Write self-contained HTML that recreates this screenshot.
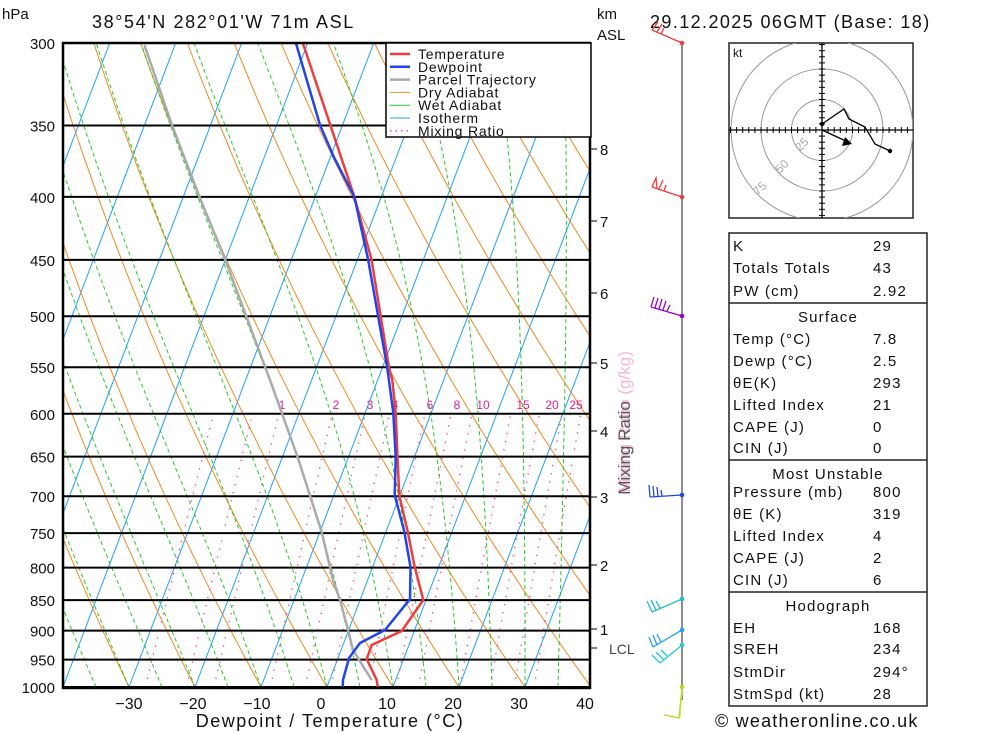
<!DOCTYPE html>
<html><head><meta charset="utf-8"><style>
body{margin:0;background:#fff}
svg{display:block}
text{font-family:"Liberation Sans",sans-serif;fill:#111}
</style></head><body>
<svg id="s" width="1000" height="733" viewBox="0 0 1000 733" xmlns="http://www.w3.org/2000/svg">
<defs><clipPath id="cp"><rect x="63" y="43" width="527" height="645"/></clipPath></defs>
<g id="bg" clip-path="url(#cp)"></g>
<g id="fg"></g>
</svg>
<script>
var NS="http://www.w3.org/2000/svg";
var bg=document.getElementById('bg'),fg=document.getElementById('fg');
function Y(p){return 43+644*Math.log(p/300)/Math.log(10/3);}
function X(T,y){return 327+6.6*T+0.38*(687-y);}
function el(par,tag,at,txt){var e=document.createElementNS(NS,tag);for(var k in at)e.setAttribute(k,at[k]);if(txt!==undefined)e.textContent=txt;par.appendChild(e);return e;}
function pl(par,pts,st){return el(par,'polyline',Object.assign({points:pts.map(function(q){return q[0].toFixed(1)+','+q[1].toFixed(1)}).join(' '),fill:'none'},st));}
for(var T=-110;T<=50;T+=10){var y1=687,y2=43;el(bg,'line',{x1:X(T,y1),y1:y1,x2:X(T,y2),y2:y2,stroke:'#1ea0ff','stroke-width':1});}
for(var th=183.15;th<=503.15;th+=10){var pts=[];for(var p=1000;p>=300;p-=10){var t=th*Math.pow(p/1000,0.2857)-273.15;var y=Y(p);pts.push([X(t,y),y]);}pl(bg,pts,{stroke:'#f08a24','stroke-width':1});}
function es(t){return 6.112*Math.exp(17.67*t/(t+243.5));}
for(var tw=-45;tw<=40;tw+=5){var t=tw,pts=[];for(var p=1000;p>=300;p-=5){var y=Y(p);pts.push([X(t,y),y]);var TK=t+273.15,e=es(t),rs=0.622*e/(p-e);var g=(287*TK+2.5e6*rs)/(p*(1004+2.5e6*2.5e6*rs*0.622/(287*TK*TK)));t-=g*5;}pl(bg,pts,{stroke:'#22cc22','stroke-width':1,'stroke-dasharray':'4,3'});}
var ws=[0.4,0.7,1,2,3,4,6,8,10,15,20,25,30];
ws.forEach(function(w){var pts=[];for(var p=1000;p>=600;p-=10){var e=p*w/(622+w),l=Math.log(e/6.112),td=243.5*l/(17.67-l),y=Y(p);pts.push([X(td,y),y]);}pl(bg,pts,{stroke:'#ff3399','stroke-width':1.3,'stroke-dasharray':'1.3,7'});});
[[1,282],[2,336],[3,370],[4,395],[6,430],[8,457],[10,483],[15,523],[20,552],[25,576]].forEach(function(a){el(fg,'text',{x:a[1],y:409,'font-size':12,'text-anchor':'middle',style:'fill:#e0208c'},a[0]);});
[300,350,400,450,500,550,600,650,700,750,800,850,900,950,1000].forEach(function(p){var y=Y(p);el(fg,'line',{x1:63,y1:y,x2:590,y2:y,stroke:'#000','stroke-width':2});el(fg,'text',{x:55,y:y+6,'font-size':15,'text-anchor':'end'},p);});
pl(fg,[[371.7,680],[353,650],[348,630],[340,600],[333,580],[321.7,532],[297.6,457],[270,380],[225.3,260],[199.5,197],[171.9,125],[144.4,45]],{stroke:'#aaa','stroke-width':2.5});
pl(fg,[[377.7,687],[376.7,680],[366.7,659],[371.7,645],[401.7,631],[423.3,600],[414.7,567],[407.8,532],[399.2,495],[397.5,457],[395.7,413],[392.3,380],[388.9,367],[371.6,260],[354.4,197],[330.3,125],[302.8,43]],{stroke:'#f03c3c','stroke-width':2.5});
pl(fg,[[342.7,687],[343,680],[349,658],[360,643],[385,630],[410,599],[410.5,567],[404.4,532],[394.7,495],[395.7,457],[393.3,413],[388.9,380],[387.1,367],[368.2,260],[354.4,197],[333.8,157],[320,125],[295.9,43]],{stroke:'#2244ee','stroke-width':2.5});
el(fg,'rect',{x:63,y:43,width:527,height:645,fill:'none',stroke:'#000','stroke-width':2.5});
[[-30,129],[-20,193],[-10,257],[0,321],[10,387],[20,453],[30,519],[40,585]].forEach(function(a){el(fg,'text',{x:a[1],y:709,'font-size':16,'text-anchor':'middle'},a[0]<0?'\u2212'+(-a[0]):a[0]);});
el(fg,'text',{x:330,y:727,'font-size':18,'text-anchor':'middle','letter-spacing':1.5},'Dewpoint / Temperature (°C)');
el(fg,'text',{x:2,y:19,'font-size':15},'hPa');
el(fg,'text',{x:92,y:28,'font-size':18,'letter-spacing':1.6},'38°54\'N  282°01\'W  71m  ASL');
el(fg,'text',{x:597,y:19,'font-size':15},'km');
el(fg,'text',{x:597,y:40,'font-size':15},'ASL');
el(fg,'text',{x:650,y:28,'font-size':18,'letter-spacing':1.4},'29.12.2025 06GMT (Base: 18)');
[[8,149],[7,221],[6,293],[5,363],[4,431],[3,497],[2,565],[1,629]].forEach(function(a){el(fg,'line',{x1:590,y1:a[1],x2:597,y2:a[1],stroke:'#000','stroke-width':1});el(fg,'text',{x:600,y:a[1]+6,'font-size':15},a[0]);});
el(fg,'line',{x1:590,y1:648,x2:597,y2:648,stroke:'#000','stroke-width':1});
el(fg,'text',{x:609,y:654,'font-size':14,style:'fill:#444'},'LCL');
el(fg,'text',{x:0,y:0,'font-size':17,'text-anchor':'middle',transform:'translate(630,422) rotate(-90)',style:'fill:#f5b8d8'},'Mixing Ratio (g/kg)');
el(fg,'text',{x:0,y:0,'font-size':17,'text-anchor':'middle',transform:'translate(630,448) rotate(-90)',style:'fill:#555'},'Mixing Ratio');
el(fg,'rect',{x:386,y:43,width:205,height:94,fill:'#fff',stroke:'#000','stroke-width':1.5});
[['Temperature','#f03c3c',2.5,''],['Dewpoint','#2244ee',2.5,''],['Parcel Trajectory','#aaa',2.5,''],['Dry Adiabat','#f08a24',1,''],['Wet Adiabat','#22cc22',1,''],['Isotherm','#1ea0ff',1,''],['Mixing Ratio','#ff3399',1.3,'1.5,4']].forEach(function(a,i){var y=54+i*12.8;el(fg,'line',{x1:390,y1:y,x2:410,y2:y,stroke:a[1],'stroke-width':a[2],'stroke-dasharray':a[3]||'none'});el(fg,'text',{x:418,y:y+5,'font-size':14,'letter-spacing':0.8},a[0]);});
el(fg,'line',{x1:682,y1:43,x2:682,y2:700,stroke:'#444','stroke-width':1.2});
function barb(c,pts,extra){pl(fg,pts,{stroke:c,'stroke-width':1.3});(extra||[]).forEach(function(e){pl(fg,e,{stroke:c,'stroke-width':1.3});});el(fg,'circle',{cx:pts[0][0],cy:pts[0][1],r:2.3,fill:c});}
barb('#f03c3c',[[682,43],[652,30]],[[[652,30],[658,22]],[[657,32],[662,24]],[[661,34],[664,28]]]);
barb('#f03c3c',[[682,197],[652,187]],[[[652,187],[656,178],[657,188]],[[659,189],[663,180]],[[664,191],[666,185]]]);
barb('#9900cc',[[682,316],[651,307]],[[[651,307],[654,297]],[[655,308],[658,298]],[[659,309],[662,299]],[[663,310],[666,301]],[[667,311],[670,305]]]);
barb('#2244ee',[[682,495],[650,497]],[[[650,497],[649,485]],[[654,497],[653,486]],[[658,496],[657,487]],[[662,496],[661,490]]]);
barb('#22bbcc',[[682,599],[652,612]],[[[652,612],[647,601]],[[656,610],[651,600]],[[660,608],[656,601]]]);
barb('#1ea0ff',[[682,630],[653,647]],[[[653,647],[649,637]],[[657,645],[653,635]],[[661,642],[657,634]]]);
barb('#22cccc',[[682,645],[660,663]],[[[660,663],[652,655]],[[664,660],[656,652]],[[668,657],[661,650]]]);
pl(fg,[[682,687],[679,718],[664,715]],{stroke:'#aadd22','stroke-width':1.3});
pl(fg,[[682,690],[680,717]],{stroke:'#dddd22','stroke-width':1});
el(fg,'circle',{cx:682,cy:687,r:2.3,fill:'#aadd22'});
var hx=822,hy=130;
el(fg,'rect',{x:729,y:43,width:184,height:175,fill:'#fff',stroke:'#222','stroke-width':1.5});
var hg=el(fg,'g',{});
el(hg,'clipPath',{id:'hc'});
el(document.getElementById('hc'),'rect',{x:729,y:43,width:184,height:175});
var hc=el(fg,'g',{'clip-path':'url(#hc)'});
[30.5,61,91].forEach(function(r){el(hc,'circle',{cx:hx,cy:hy,r:r,fill:'none',stroke:'#999','stroke-width':1});});
el(hc,'line',{x1:729,y1:hy,x2:913,y2:hy,stroke:'#000','stroke-width':1.3});
el(hc,'line',{x1:hx,y1:43,x2:hx,y2:218,stroke:'#000','stroke-width':1.3});
for(var k=-15;k<=15;k++){if(k==0)continue;el(hc,'line',{x1:hx+k*6.1,y1:hy-3,x2:hx+k*6.1,y2:hy+3,stroke:'#000','stroke-width':1});el(hc,'line',{x1:hx-3,y1:hy+k*6.1,x2:hx+3,y2:hy+k*6.1,stroke:'#000','stroke-width':1});}
el(fg,'text',{x:733,y:57,'font-size':12},'kt');
[['25',800,152],['50',780,174],['75',758,196]].forEach(function(a){el(fg,'text',{x:0,y:0,'font-size':12,transform:'translate('+a[1]+','+a[2]+') rotate(-45)',style:'fill:#aaa'},a[0]);});
pl(fg,[[822,124],[844,109],[849,119],[865,127],[875,144],[890,151]],{stroke:'#000','stroke-width':1.3});
el(fg,'circle',{cx:822,cy:124,r:2.2,fill:'#000'});el(fg,'circle',{cx:890,cy:151,r:2.2,fill:'#000'});
el(fg,'line',{x1:822,y1:130,x2:848,y2:142,stroke:'#000','stroke-width':1.3});
el(fg,'polygon',{points:'852,144 842,146 845,137',fill:'#000'});
el(fg,'rect',{x:729,y:233,width:198,height:473,fill:'none',stroke:'#222','stroke-width':1.5});
[303,460,592].forEach(function(y){el(fg,'line',{x1:729,y1:y,x2:927,y2:y,stroke:'#222','stroke-width':1.5});});
var rows=[['K','29',246],['Totals Totals','43',268],['PW (cm)','2.92',291],['#Surface','',317],['Temp (°C)','7.8',339],['Dewp (°C)','2.5',361],['θE(K)','293',383],['Lifted Index','21',405],['CAPE (J)','0',427],['CIN (J)','0',448],['#Most Unstable','',474],['Pressure (mb)','800',492],['θE (K)','319',514],['Lifted Index','4',536],['CAPE (J)','2',558],['CIN (J)','6',580],['#Hodograph','',606],['EH','168',628],['SREH','234',649],['StmDir','294°',672],['StmSpd (kt)','28',694]];
rows.forEach(function(r){var y=r[2]+5;if(r[0][0]=='#'){el(fg,'text',{x:828,y:y,'font-size':15,'text-anchor':'middle','letter-spacing':1.2},r[0].slice(1));}else{el(fg,'text',{x:733,y:y,'font-size':15,'letter-spacing':1.2},r[0]);el(fg,'text',{x:873,y:y,'font-size':15,'letter-spacing':1.2},r[1]);}});
el(fg,'text',{x:715,y:727,'font-size':18,'letter-spacing':1.2},'© weatheronline.co.uk');
</script>
</body></html>
